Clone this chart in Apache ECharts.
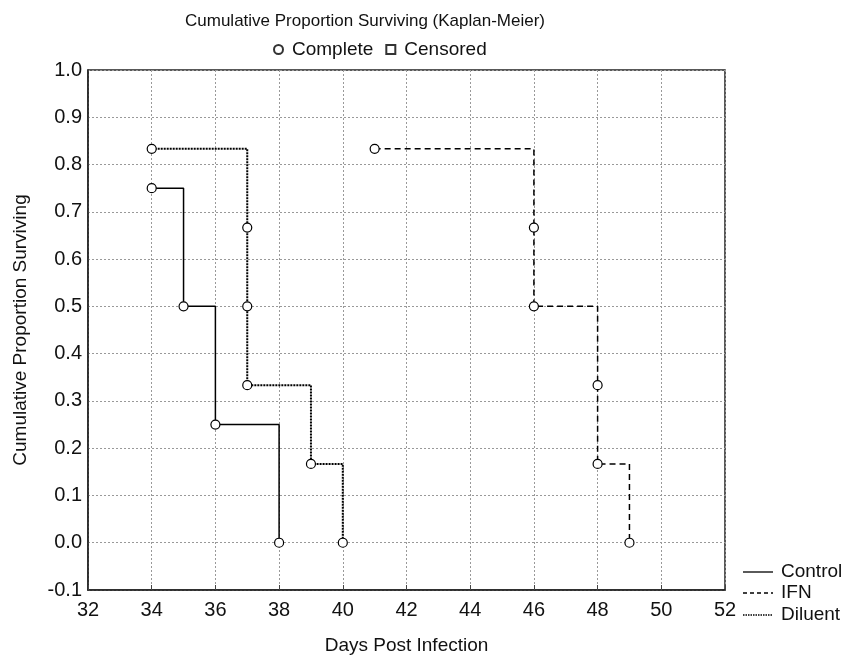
<!DOCTYPE html>
<html>
<head>
<meta charset="utf-8">
<script src="https://cdn.jsdelivr.net/npm/echarts@6/dist/echarts.min.js"></script>
<style>
  html, body { margin: 0; padding: 0; background: #fff; }
  #chart { width: 846px; height: 657px; }
</style>
</head>
<body>
<div id="chart"></div>
<script>
// survival steps
var controlPts = [[34, 0.75], [35, 0.5], [36, 0.25], [38, 0.0]];
var ifnPts = [[41, 0.8333], [46, 0.6667], [46, 0.5], [48, 0.3333], [48, 0.1667], [49, 0.0]];
var diluentPts = [[34, 0.8333], [37, 0.6667], [37, 0.5], [37, 0.3333], [39, 0.1667], [40, 0.0]];
var seriesNames = ["Control", "IFN", "Diluent"];
var markerNames = ["Complete", "Censored"];

var font = "Liberation Sans, Arial, sans-serif";

function kmLine(name, pts, dash, width) {
    return {
        name: name,
        type: "line",
        step: "end",
        data: pts,
        symbol: "circle",
        symbolSize: 9,
        itemStyle: { color: "#fff", borderColor: "#000", borderWidth: 1.2 },
        lineStyle: { color: "#000", width: width, type: dash },
        z: 3
    };
}

var chart = echarts.init(document.getElementById("chart"));
chart.setOption({
    animation: false,
    backgroundColor: "#fff",
    textStyle: { fontFamily: font },
    title: {
        text: "Cumulative Proportion Surviving (Kaplan-Meier)",
        left: 360, top: 8, textAlign: "center",
        textStyle: { fontFamily: font, fontSize: 17, fontWeight: "normal", color: "#111" }
    },
    legend: {
        data: [
            { name: markerNames[0], icon: "circle" },
            { name: markerNames[1], icon: "rect" }
        ],
        left: 268, top: 35,
        itemWidth: 9, itemHeight: 9, itemGap: 12,
        textStyle: { fontFamily: font, fontSize: 19, color: "#111", padding: [0, 0, 0, 4] },
        selectedMode: false
    },
    grid: {
        left: 88, right: 121, top: 70, bottom: 67,
        outerBoundsMode: "none",
        show: true, borderColor: "#222", borderWidth: 1.5
    },
    xAxis: {
        type: "value", min: 32, max: 52, interval: 2,
        name: "Days Post Infection", nameLocation: "middle", nameGap: 46,
        nameTextStyle: { fontFamily: font, fontSize: 19, color: "#111" },
        axisLine: { onZero: false, lineStyle: { color: "#222", width: 1.5 } },
        axisTick: { inside: true, length: 5, lineStyle: { color: "#444" } },
        axisLabel: { fontFamily: font, fontSize: 20, color: "#111", margin: 10 },
        splitLine: { lineStyle: { color: "#999", type: [2, 2] } }
    },
    yAxis: {
        type: "value", min: -0.1, max: 1.0, interval: 0.1,
        name: "Cumulative Proportion Surviving", nameLocation: "middle", nameGap: 58,
        nameTextStyle: { fontFamily: font, fontSize: 19, color: "#111" },
        axisLine: { show: true, onZero: false, lineStyle: { color: "#222", width: 1.5 } },
        axisTick: { show: false },
        axisLabel: {
            fontFamily: font, fontSize: 20, color: "#111", margin: 6,
            formatter: function(v) { return v.toFixed(1); }
        },
        splitLine: { lineStyle: { color: "#999", type: [2, 2] } }
    },
    series: [
        kmLine(seriesNames[0], controlPts, "solid", 1.5),
        kmLine(seriesNames[1], ifnPts, [6, 4], 1.5),
        kmLine(seriesNames[2], diluentPts, [2, 1], 2),
        { name: markerNames[0], type: "scatter", data: [],
          itemStyle: { color: "#fff", borderColor: "#000", borderWidth: 1.3 } },
        { name: markerNames[1], type: "scatter", data: [],
          itemStyle: { color: "#fff", borderColor: "#000", borderWidth: 1.8 } }
    ],
    graphic: [
        { type: "line", shape: { x1: 743, y1: 572, x2: 773, y2: 572 },
          style: { stroke: "#000", lineWidth: 1.3 } },
        { type: "text", x: 781, y: 572, style: { text: seriesNames[0], font: "19px " + font, fill: "#111", textVerticalAlign: "middle" } },
        { type: "line", shape: { x1: 743, y1: 593, x2: 773, y2: 593 },
          style: { stroke: "#000", lineWidth: 1.3, lineDash: [4, 3] } },
        { type: "text", x: 781, y: 593, style: { text: seriesNames[1], font: "19px " + font, fill: "#111", textVerticalAlign: "middle" } },
        { type: "line", shape: { x1: 743, y1: 615, x2: 773, y2: 615 },
          style: { stroke: "#000", lineWidth: 1.5, lineDash: [1.5, 1] } },
        { type: "text", x: 781, y: 615, style: { text: seriesNames[2], font: "19px " + font, fill: "#111", textVerticalAlign: "middle" } }
    ]
});
</script>
</body>
</html>
